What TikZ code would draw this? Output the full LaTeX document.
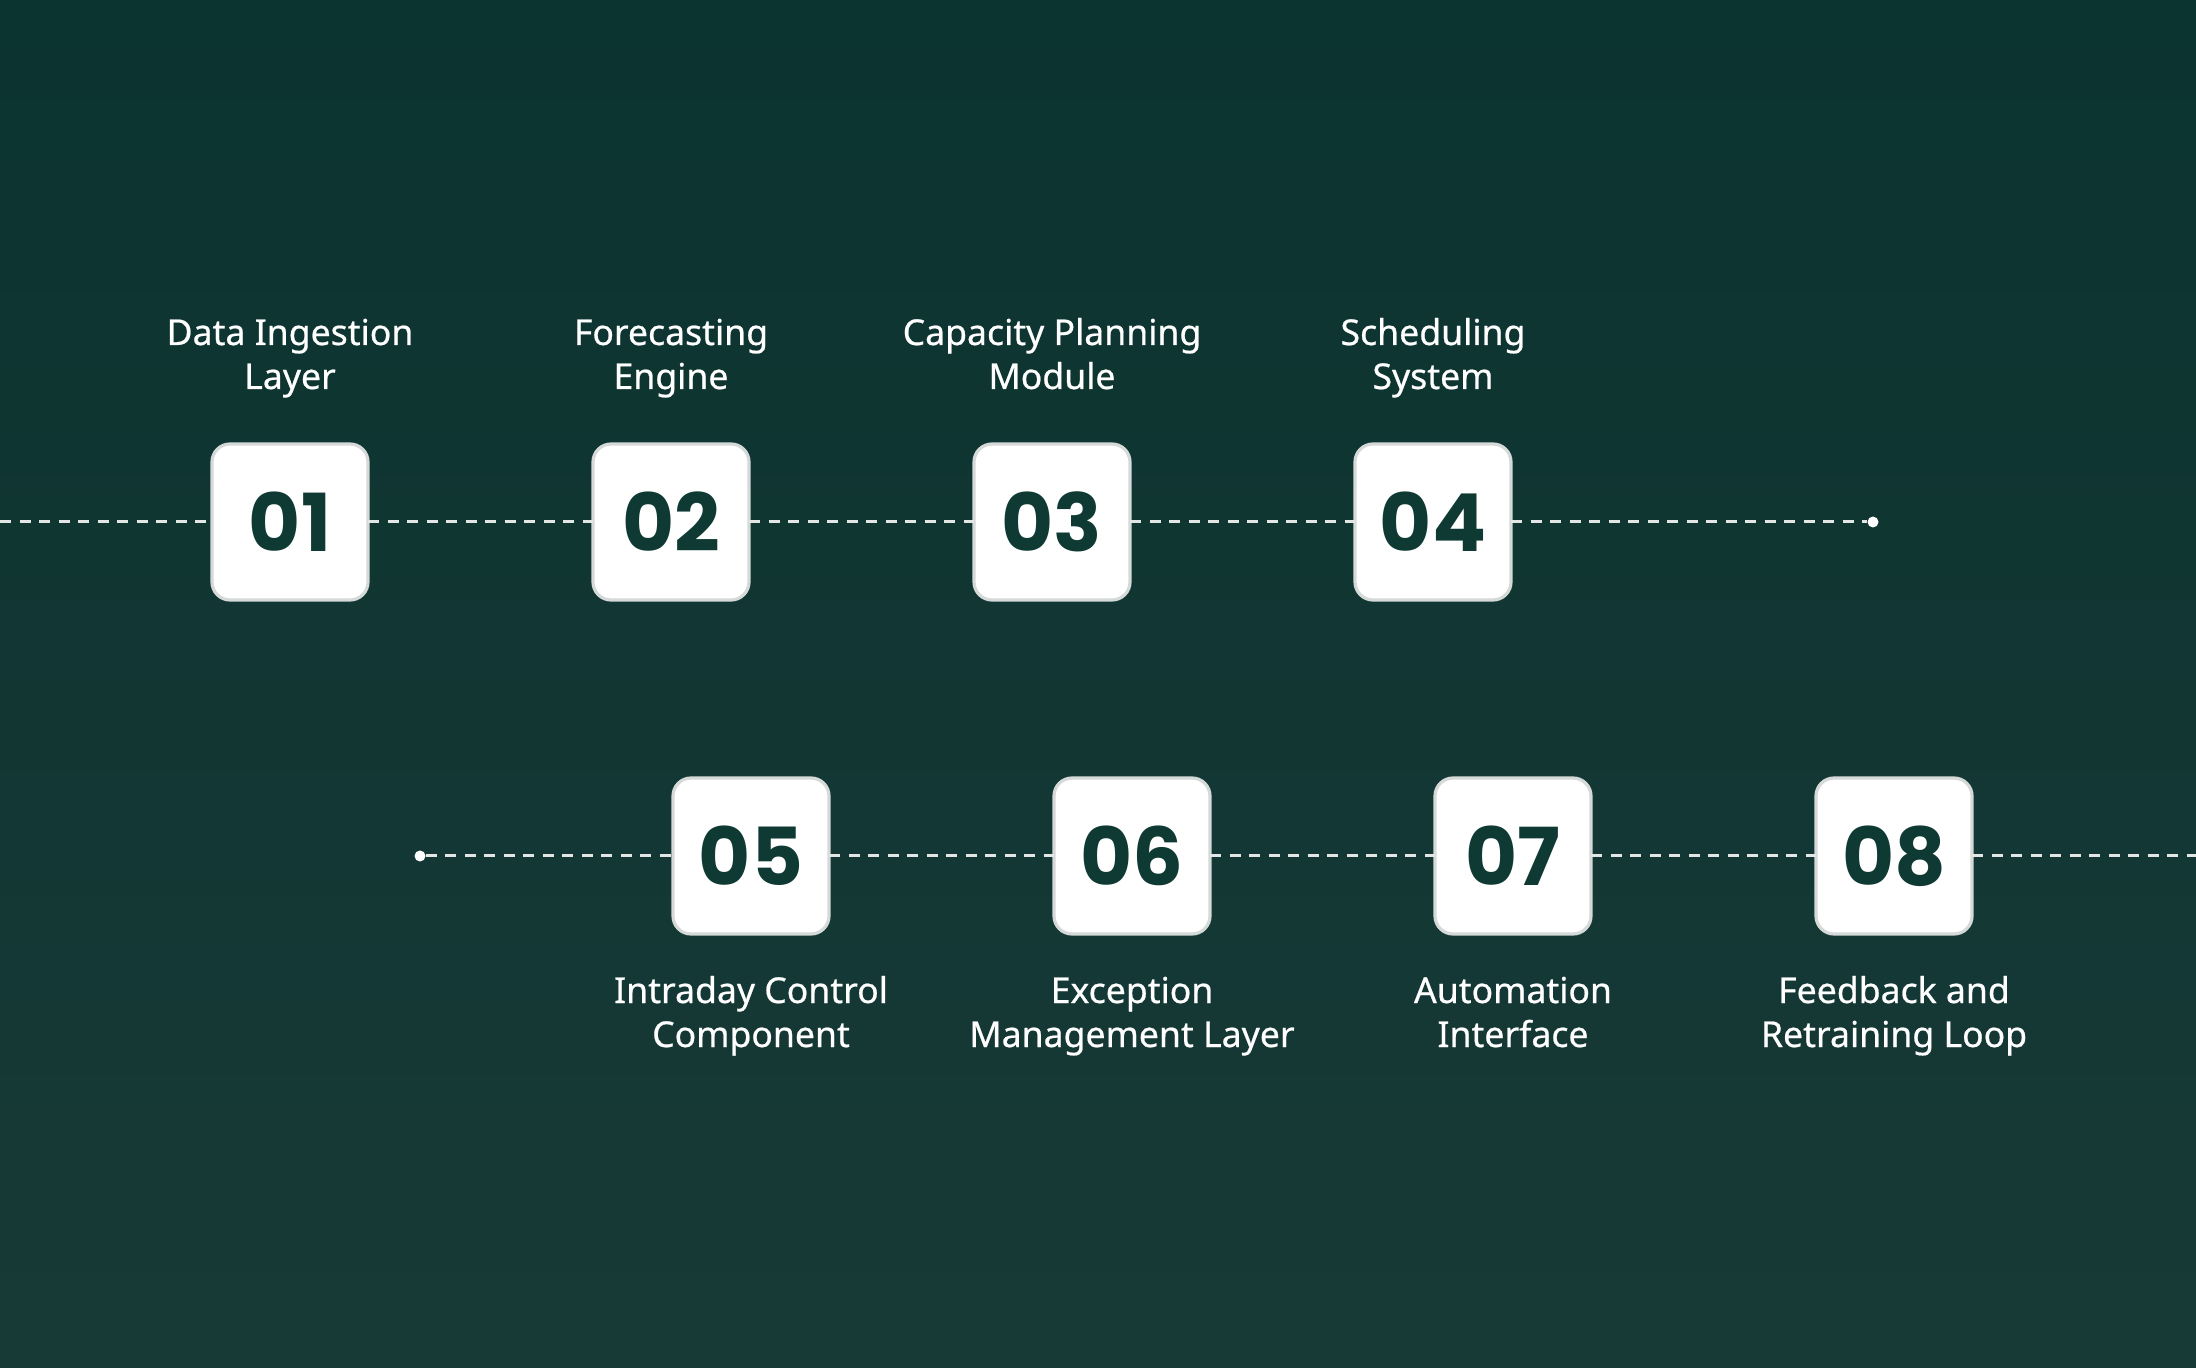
\documentclass[tikz,border=0pt]{standalone}
\usepackage{fontspec}
\setmainfont{Noto Sans}[FakeBold=0.6]
\newfontfamily\numfont{Poppins}
\usetikzlibrary{positioning}

\definecolor{bgtop}{HTML}{0B332F}
\definecolor{bgbottom}{HTML}{183A37}
\definecolor{numgreen}{HTML}{0F3A34}
\definecolor{boxedge}{HTML}{D5D9D8}
\definecolor{trailgray}{HTML}{E2E6E5}

\begin{document}
\begin{tikzpicture}[
		x=0.5pt, y=-0.5pt,
		stage/.style={draw=boxedge, line width=1.6pt, fill=white, rounded corners=9pt,
			minimum size=78pt, inner sep=0pt, outer sep=0pt, text=numgreen,
			font=\numfont\bfseries\fontsize{40}{40}\selectfont},
		caption/.style={text=white, align=center, anchor=base,
			font=\fontsize{17.8}{22}\selectfont},
		trail/.style={draw=trailgray, line width=1.5pt, dash pattern=on 5.5pt off 4.25pt},
		tip/.style={circle, fill=white, inner sep=0pt, minimum size=5.5pt}
		]
		
		% ==========================================
		% BACKGROUND
		% ==========================================
		\shade[top color=bgtop, bottom color=bgbottom] (0,0) rectangle (2196,1368);
		\useasboundingbox (0,0) rectangle (2196,1368);
		
		% ==========================================
		% TOP ROW (01 - 04)
		% ==========================================
		\node[stage] (n1) at (290,522) {01};
		\node[stage, right=112.5pt of n1] (n2) {02};
		\node[stage, right=112.5pt of n2] (n3) {03};
		\node[stage, right=112.5pt of n3] (n4) {04};
		
		% ==========================================
		% BOTTOM ROW (05 - 08)
		% ==========================================
		\node[stage] (n5) at (751,856) {05};
		\node[stage, right=112.5pt of n5] (n6) {06};
		\node[stage, right=112.5pt of n6] (n7) {07};
		\node[stage, right=112.5pt of n7] (n8) {08};
		
		% ==========================================
		% DASHED TRAILS
		% ==========================================
		\coordinate (topstart) at (0,522);
		\node[tip] (topend) at (1873,522) {};
		\node[tip] (botstart) at (420,856) {};
		\coordinate (botend) at (2196,856);
		
		\draw[trail] (topstart) -- (n1);
		\draw[trail] (n1) -- (n2);
		\draw[trail] (n2) -- (n3);
		\draw[trail] (n3) -- (n4);
		\draw[trail] (n4) -- (topend);
		
		\draw[trail] (botstart) -- (n5);
		\draw[trail] (n5) -- (n6);
		\draw[trail] (n6) -- (n7);
		\draw[trail] (n7) -- (n8);
		\draw[trail] (n8) -- (botend);
		
		% ==========================================
		% CAPTIONS
		% ==========================================
		\node[caption] (c1) at ([yshift=66.5pt]n1.center) {Data Ingestion\\Layer};
		\node[caption] (c2) at ([yshift=66.5pt]n2.center) {Forecasting\\Engine};
		\node[caption] (c3) at ([yshift=66.5pt]n3.center) {Capacity Planning\\Module};
		\node[caption] (c4) at ([yshift=66.5pt]n4.center) {Scheduling\\System};
		
		\node[caption] (c5) at ([yshift=-95.5pt]n5.center) {Intraday Control\\Component};
		\node[caption] (c6) at ([yshift=-95.5pt]n6.center) {Exception\\Management Layer};
		\node[caption] (c7) at ([yshift=-95.5pt]n7.center) {Automation\\Interface};
		\node[caption] (c8) at ([yshift=-95.5pt]n8.center) {Feedback and\\Retraining Loop};
		
	\end{tikzpicture}
\end{document}
